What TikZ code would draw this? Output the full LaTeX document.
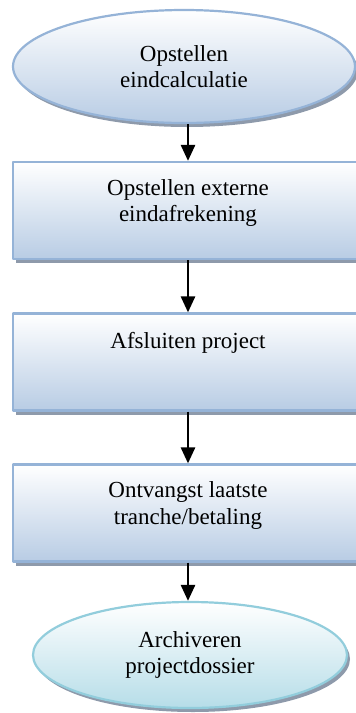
\documentclass[tikz,border=0pt]{standalone}
\usepackage{fontspec}
\setmainfont{Liberation Serif}
\usetikzlibrary{positioning,calc,shapes.geometric,shadows,arrows.meta}

\definecolor{boxblue}{HTML}{B8CCE4}
\definecolor{boxline}{HTML}{95B3D7}
\definecolor{endblue}{HTML}{B6DDE8}
\definecolor{endline}{HTML}{92CDDC}
\definecolor{shadowgray}{HTML}{8E9AAB}

\begin{document}
\begin{tikzpicture}[x=0.5pt,y=-0.5pt,>=stealth,line cap=round,line join=round,
    flow/.style={line width=1.1pt,top color=white,bottom color=boxblue,draw=boxline,
      drop shadow={shadow xshift=1.5pt,shadow yshift=-2pt,fill=shadowgray,opacity=1}},
    stepbox/.style={flow,rectangle,minimum width=175pt,minimum height=48.5pt},
    startend/.style={flow,ellipse,inner sep=0pt},
    txt/.style={font=\fontsize{11.5}{13.3}\selectfont,align=center,inner sep=0pt},
    arr/.style={line width=1.3pt,line cap=butt,-{Triangle[width=7pt,length=8pt]}}]
  \useasboundingbox (0,0) rectangle (356,713);

  %--- Start and end ellipses -----------------------------------------------
  \node[startend,minimum width=171pt,minimum height=56.5pt] (start) at (184,66.5) {};
  \node[txt] (starttxt) at (start.center) {Opstellen\\eindcalculatie};

  \node[startend,minimum width=157pt,minimum height=53pt,
        bottom color=endblue,draw=endline] (archief) at (190,655) {};
  \node[txt] (archieftxt) at (archief.center) {Archiveren\\projectdossier};

  %--- Steps (text sits at the top of each box) -----------------------------
  \node[stepbox] (eindafr) at (188,210.5) {};
  \node[txt,anchor=north] (eindafrtxt) at ($(eindafr.north)+(0,18)$)
       {Opstellen externe\\eindafrekening};

  \node[stepbox] (afsluiten) at (188,362) {};
  \node[txt,anchor=north] (afsluitentxt) at ($(afsluiten.north)+(0,19)$)
       {Afsluiten project};

  \node[stepbox] (tranche) at (188,513) {};
  \node[txt,anchor=north] (tranchetxt) at ($(tranche.north)+(0,18)$)
       {Ontvangst laatste\\tranche/betaling};

  %--- Arrows ---------------------------------------------------------------
  \draw[arr] (start.south -| eindafr.north) -- (eindafr.north);
  \draw[arr] (eindafr.south) -- (afsluiten.north);
  \draw[arr] (afsluiten.south) -- (tranche.north);
  \draw[arr] (tranche.south) -- (tranche.south |- archief.north);
\end{tikzpicture}
\end{document}
